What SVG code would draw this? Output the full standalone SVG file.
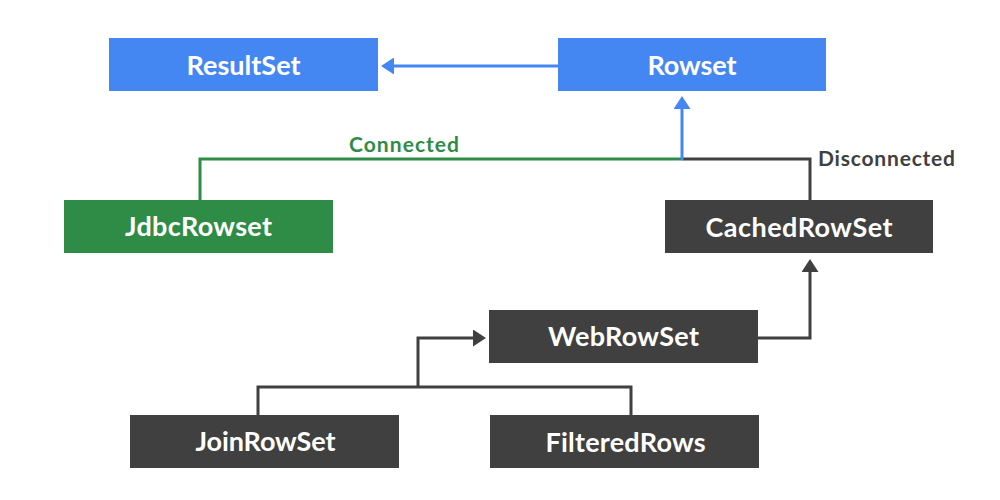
<svg xmlns="http://www.w3.org/2000/svg" width="1000" height="500" viewBox="0 0 1000 500">
<style>
  .blue { fill: #4487F3; }
  .green { fill: #2F8C46; }
  .dark { fill: #404040; }
  .lbl { font-family: Lato, "Open Sans", "Liberation Sans", sans-serif; font-weight: bold; fill: #FFFFFF; font-size: 27px; text-anchor: middle; }
  .edge { fill: none; stroke-width: 3; stroke-linejoin: miter; }
  .eb { stroke: #4487F3; }
  .eg { stroke: #2F8C46; }
  .ed { stroke: #404040; }
  .elbl { font-family: Lato, "Open Sans", "Liberation Sans", sans-serif; font-weight: bold; font-size: 21px; }
</style>
<defs>
  <marker id="ab" markerUnits="userSpaceOnUse" markerWidth="13" markerHeight="17" refX="0" refY="8.5" orient="auto">
    <path d="M0,0 L13,8.5 L0,17 Z" fill="#4487F3"/>
  </marker>
  <marker id="ad" markerUnits="userSpaceOnUse" markerWidth="13" markerHeight="17" refX="0" refY="8.5" orient="auto">
    <path d="M0,0 L13,8.5 L0,17 Z" fill="#404040"/>
  </marker>
</defs>
<rect width="1000" height="500" fill="#FFFFFF"/>
<g id="connectors">
  <path class="edge eb" d="M558,66 L394,66" marker-end="url(#ab)"/>
  <path class="edge eg" d="M200,200 L200,159 L682,159"/>
  <path class="edge ed" d="M682,159 L810,159 L810,200"/>
  <path class="edge eb" d="M682,160 L682,109" marker-end="url(#ab)"/>
  <path class="edge ed" d="M758,338 L810,338 L810,272" marker-end="url(#ad)"/>
  <path class="edge ed" d="M258,415 L258,387 L631,387 L631,415"/>
  <path class="edge ed" d="M418,387 L418,338 L473,338" marker-end="url(#ad)"/>
  <text class="elbl" x="404" y="152" text-anchor="middle" fill="#2F8C46" textLength="110">Connected</text>
  <text class="elbl" x="818" y="166" fill="#404040" textLength="137">Disconnected</text>
</g>
<g id="ResultSet">
  <rect class="blue" x="109" y="38" width="269" height="53"/>
  <text class="lbl" x="243.5" y="75" textLength="114">ResultSet</text>
</g>
<g id="Rowset">
  <rect class="blue" x="558" y="38" width="268" height="53"/>
  <text class="lbl" x="692" y="75" textLength="89">Rowset</text>
</g>
<g id="JdbcRowset">
  <rect class="green" x="64" y="200" width="269" height="53"/>
  <text class="lbl" x="198.5" y="236" textLength="147">JdbcRowset</text>
</g>
<g id="CachedRowSet">
  <rect class="dark" x="665" y="200" width="268" height="53"/>
  <text class="lbl" x="799" y="237" textLength="187">CachedRowSet</text>
</g>
<g id="WebRowSet">
  <rect class="dark" x="489" y="310" width="269" height="53"/>
  <text class="lbl" x="623.5" y="346" textLength="151">WebRowSet</text>
</g>
<g id="JoinRowSet">
  <rect class="dark" x="130" y="415" width="269" height="53"/>
  <text class="lbl" x="265.5" y="451" textLength="140">JoinRowSet</text>
</g>
<g id="FilteredRows">
  <rect class="dark" x="490" y="415" width="269" height="53"/>
  <text class="lbl" x="625.5" y="452" textLength="160">FilteredRows</text>
</g>
</svg>
